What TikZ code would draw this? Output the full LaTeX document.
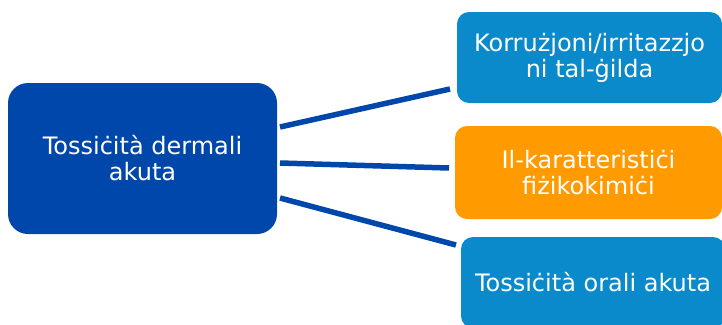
\documentclass[tikz,border=0pt]{standalone}
\usepackage{fontspec}
\setmainfont{DejaVu Sans}
\definecolor{darkb}{HTML}{0047AB}
\definecolor{lightb}{HTML}{0A8ACA}
\definecolor{orng}{HTML}{FF9A00}
\begin{document}
\begin{tikzpicture}[x=1pt,y=-1pt,
  box/.style={rounded corners=12pt, text=white, align=center, inner sep=0pt,
    font=\fontsize{24}{26}\selectfont},
  link/.style={draw=darkb, line width=5.5pt}]
\useasboundingbox (0,0) rectangle (722,324);
\begin{scope}
\clip (0,0) rectangle (722,324);
\node[box, fill=darkb, rounded corners=20pt, minimum width=269pt, minimum height=151pt] (src) at (142.5,158.5) {Tossiċità dermali\\akuta};
\node[box, fill=lightb, minimum width=265pt, minimum height=91pt] (t1) at (589.5,57.5) {Korrużjoni/irritazzjo\\ni tal-ġilda};
\node[box, fill=orng, minimum width=267pt, minimum height=93pt] (t2) at (588.5,172.5) {Il-karatteristiċi\\fiżikokimiċi};
\node[box, fill=lightb, minimum width=264pt, minimum height=91pt] (t3) at (593,282.5) {Tossiċità orali akuta};
\end{scope}
\coordinate (s1) at (280,127);
\coordinate (s2) at (280,163);
\coordinate (s3) at (280,198);
\coordinate (e1) at (450,89);
\coordinate (e2) at (449,168);
\coordinate (e3) at (456,245);
\draw[link] (s1) -- (e1);
\draw[link] (s2) -- (e2);
\draw[link] (s3) -- (e3);
\end{tikzpicture}
\end{document}
